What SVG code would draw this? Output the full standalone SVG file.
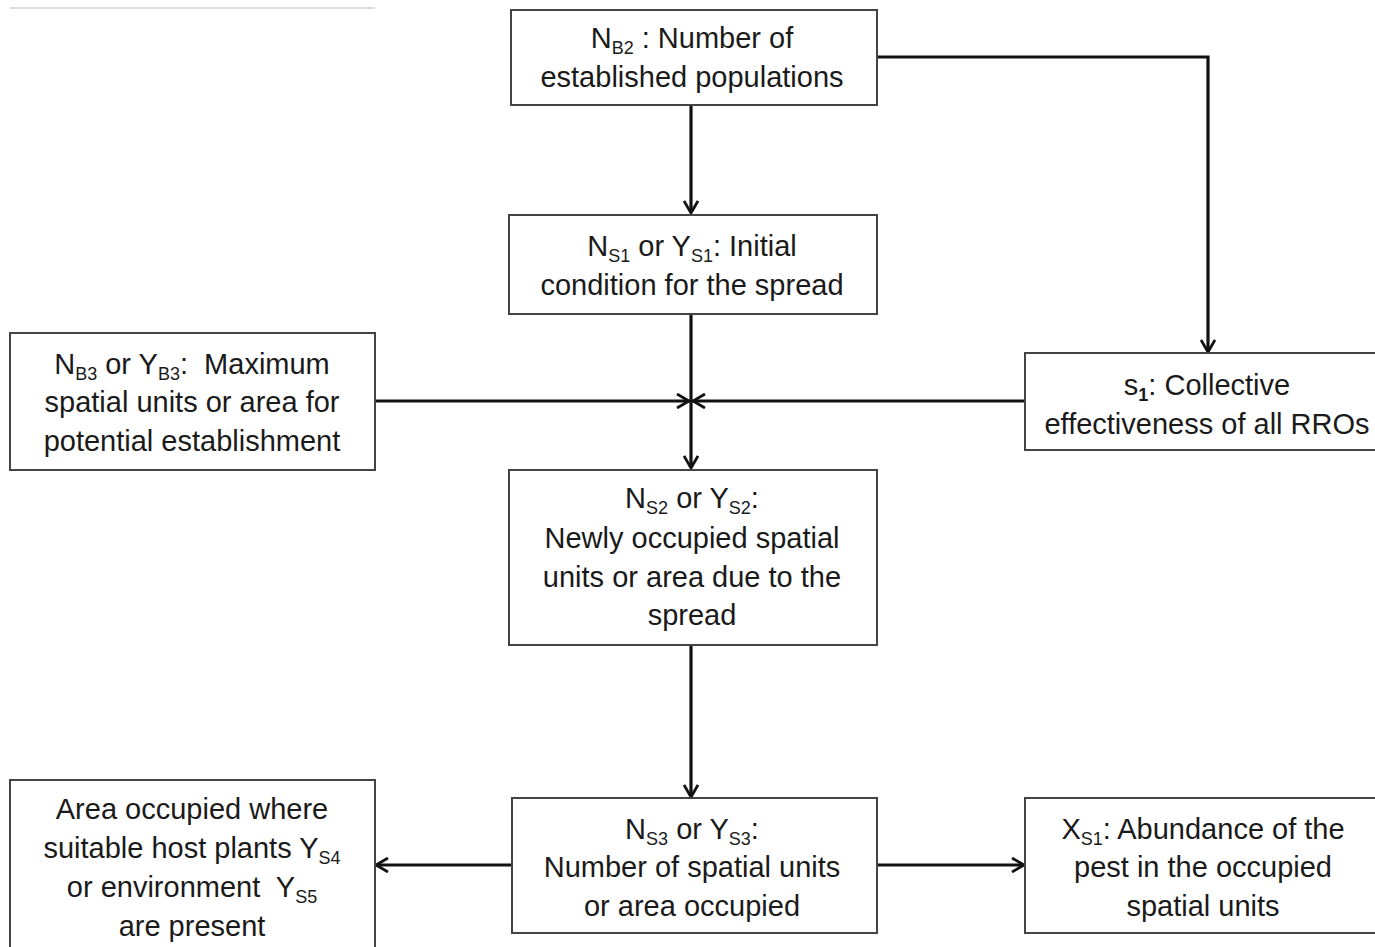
<svg xmlns="http://www.w3.org/2000/svg" width="1375" height="947" viewBox="0 0 1375 947">
<defs>
<style>
.box{fill:#fff;stroke:#444;stroke-width:2}
.t{font-family:"Liberation Sans",Arial,sans-serif;font-size:29px;fill:#1a1a1a;text-anchor:middle;white-space:pre}
.sub{font-size:18px}
.c{fill:none;stroke:#111;stroke-width:3.2}
</style>
<marker id="ah" viewBox="0 0 14 16" refX="13" refY="8" markerWidth="14" markerHeight="16" markerUnits="userSpaceOnUse" orient="auto">
<path d="M1,1 L13,8 L1,15" fill="none" stroke="#111" stroke-width="2.8"/>
</marker>
</defs>
<rect width="1375" height="947" fill="#fff"/>
<line x1="10" y1="8" x2="375" y2="8" stroke="#d0d0d0" stroke-width="1.5"/>

<g id="connectors">
<path class="c" d="M691,105 V213" marker-end="url(#ah)"/>
<path class="c" d="M877,57 H1208 V352" marker-end="url(#ah)"/>
<path class="c" d="M691,314 V468" marker-end="url(#ah)"/>
<path class="c" d="M375,401 H689" marker-end="url(#ah)"/>
<path class="c" d="M1025,401 H693" marker-end="url(#ah)"/>
<path class="c" d="M691,645 V797" marker-end="url(#ah)"/>
<path class="c" d="M512,865 H376" marker-end="url(#ah)"/>
<path class="c" d="M877,865 H1024" marker-end="url(#ah)"/>
</g>

<g id="nb2">
<rect class="box" x="511" y="10" width="366" height="95"/>
<text class="t" x="692" y="48">N<tspan class="sub" dy="6">B2</tspan><tspan dy="-6"> : Number of</tspan></text>
<text class="t" x="692" y="87">established populations</text>
</g>

<g id="ns1">
<rect class="box" x="509" y="215" width="368" height="99"/>
<text class="t" x="692" y="256">N<tspan class="sub" dy="6">S1</tspan><tspan dy="-6"> or Y</tspan><tspan class="sub" dy="6">S1</tspan><tspan dy="-6">: Initial</tspan></text>
<text class="t" x="692" y="295">condition for the spread</text>
</g>

<g id="nb3">
<rect class="box" x="10" y="333" width="365" height="137"/>
<text class="t" x="192" y="374" xml:space="preserve">N<tspan class="sub" dy="6">B3</tspan><tspan dy="-6"> or Y</tspan><tspan class="sub" dy="6">B3</tspan><tspan dy="-6">:  Maximum</tspan></text>
<text class="t" x="192" y="412">spatial units or area for</text>
<text class="t" x="192" y="451">potential establishment</text>
</g>

<g id="s1">
<rect class="box" x="1025" y="353" width="352" height="97"/>
<text class="t" x="1207" y="395">s<tspan class="sub" dy="6" font-weight="bold">1</tspan><tspan dy="-6">: Collective</tspan></text>
<text class="t" x="1207" y="434">effectiveness of all RROs</text>
</g>

<g id="ns2">
<rect class="box" x="509" y="470" width="368" height="175"/>
<text class="t" x="692" y="508">N<tspan class="sub" dy="6">S2</tspan><tspan dy="-6"> or Y</tspan><tspan class="sub" dy="6">S2</tspan><tspan dy="-6">:</tspan></text>
<text class="t" x="692" y="548">Newly occupied spatial</text>
<text class="t" x="692" y="587">units or area due to the</text>
<text class="t" x="692" y="625">spread</text>
</g>

<g id="area">
<rect class="box" x="10" y="780" width="365" height="175"/>
<text class="t" x="192" y="819">Area occupied where</text>
<text class="t" x="192" y="858">suitable host plants Y<tspan class="sub" dy="6">S4</tspan></text>
<text class="t" x="192" y="897" xml:space="preserve">or environment  Y<tspan class="sub" dy="6">S5</tspan></text>
<text class="t" x="192" y="936">are present</text>
</g>

<g id="ns3">
<rect class="box" x="512" y="798" width="365" height="135"/>
<text class="t" x="692" y="839">N<tspan class="sub" dy="6">S3</tspan><tspan dy="-6"> or Y</tspan><tspan class="sub" dy="6">S3</tspan><tspan dy="-6">:</tspan></text>
<text class="t" x="692" y="877">Number of spatial units</text>
<text class="t" x="692" y="916">or area occupied</text>
</g>

<g id="xs1">
<rect class="box" x="1025" y="798" width="352" height="135"/>
<text class="t" x="1203" y="839">X<tspan class="sub" dy="6">S1</tspan><tspan dy="-6">: Abundance of the</tspan></text>
<text class="t" x="1203" y="877">pest in the occupied</text>
<text class="t" x="1203" y="916">spatial units</text>
</g>
</svg>
